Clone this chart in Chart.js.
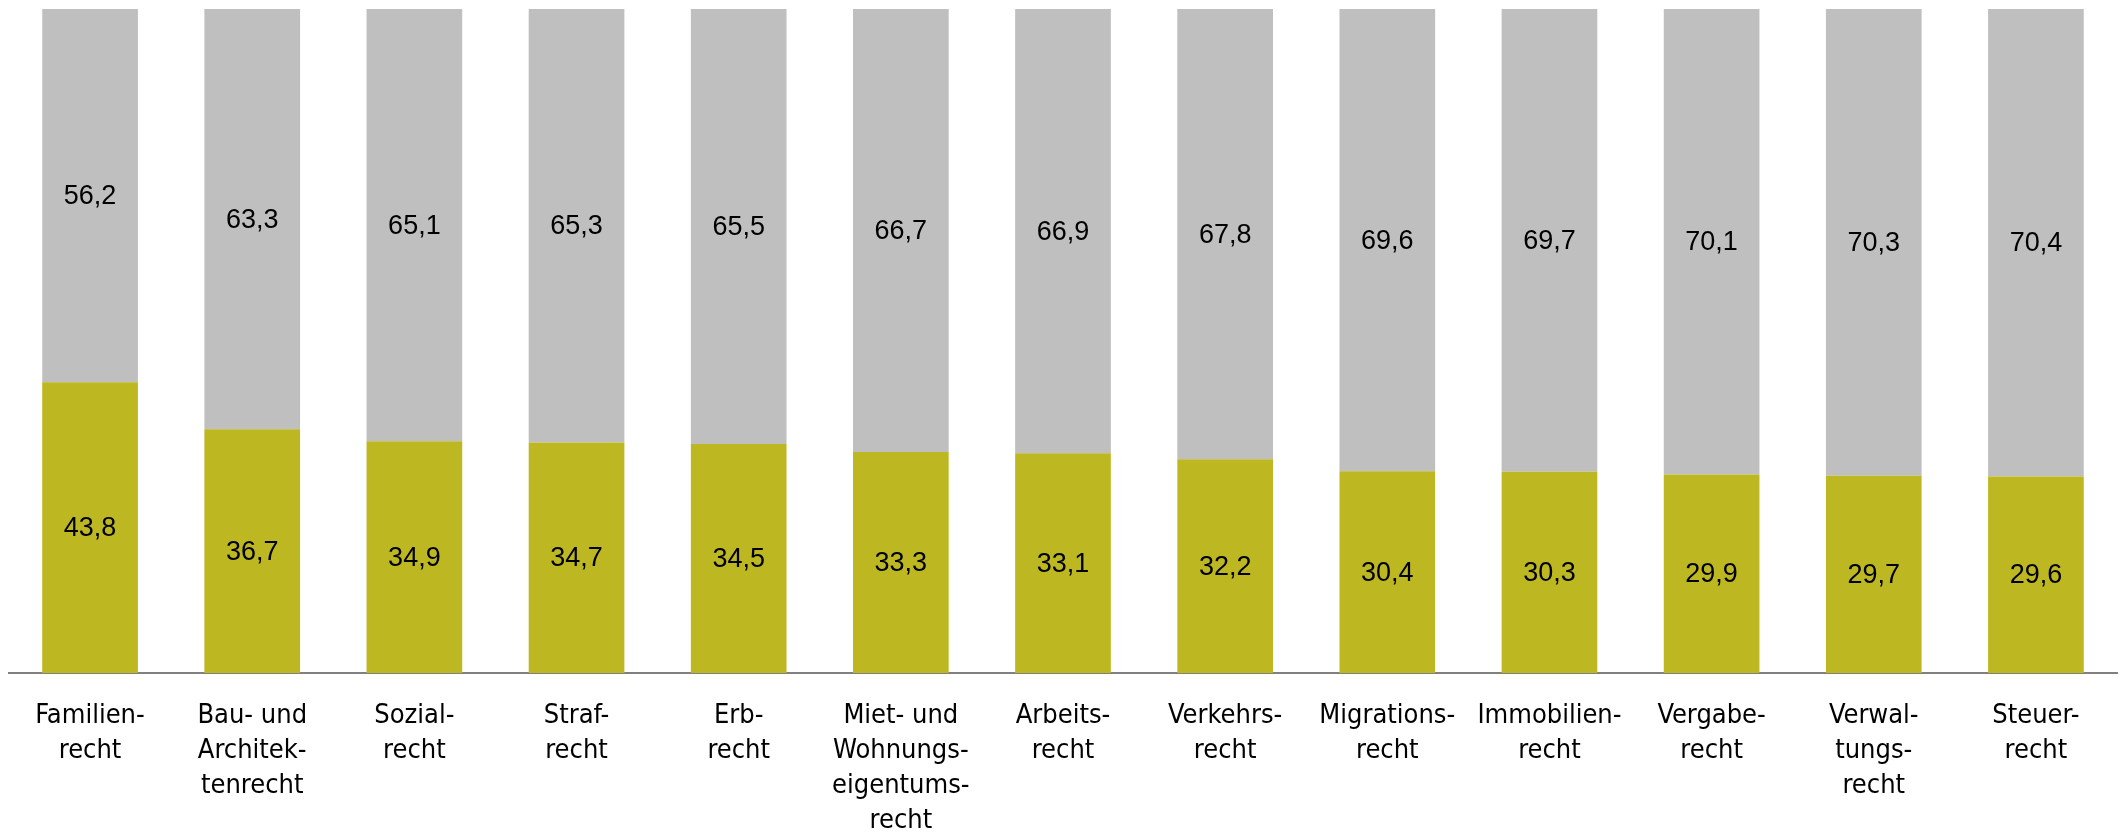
<!DOCTYPE html>
<html>
<head>
<meta charset="utf-8">
<script src="https://cdn.jsdelivr.net/npm/chart.js@4.4.0/dist/chart.umd.min.js"></script>
<style>
  html, body { margin: 0; padding: 0; background: #fff; }
  #wrap { width: 2123px; height: 833px; position: relative; }
</style>
</head>
<body>
<div id="wrap"><canvas id="c"></canvas></div>
<script>
// Kategorien (mehrzeilige Beschriftung)
const kategorien = [
  ['Familien-', 'recht'],
  ['Bau- und', 'Architek-', 'tenrecht'],
  ['Sozial-', 'recht'],
  ['Straf-', 'recht'],
  ['Erb-', 'recht'],
  ['Miet- und', 'Wohnungs-', 'eigentums-', 'recht'],
  ['Arbeits-', 'recht'],
  ['Verkehrs-', 'recht'],
  ['Migrations-', 'recht'],
  ['Immobilien-', 'recht'],
  ['Vergabe-', 'recht'],
  ['Verwal-', 'tungs-', 'recht'],
  ['Steuer-', 'recht']
];

const anteilUnten = [43.8, 36.7, 34.9, 34.7, 34.5, 33.3, 33.1, 32.2, 30.4, 30.3, 29.9, 29.7, 29.6];
const anteilOben  = [56.2, 63.3, 65.1, 65.3, 65.5, 66.7, 66.9, 67.8, 69.6, 69.7, 70.1, 70.3, 70.4];

const fmt = v => v.toFixed(1).replace('.', ',');

// Werte mittig in die Segmente schreiben
const wertLabels = {
  id: 'wertLabels',
  afterDatasetsDraw(chart) {
    const ctx = chart.ctx;
    ctx.save();
    ctx.font = '27px "Liberation Sans", Arial, sans-serif';
    ctx.fillStyle = '#000';
    ctx.textAlign = 'center';
    ctx.textBaseline = 'middle';
    chart.data.datasets.forEach((ds, i) => {
      chart.getDatasetMeta(i).data.forEach((bar, j) => {
        const p = bar.getProps(['x', 'y', 'base'], true);
        ctx.fillText(fmt(ds.data[j]), p.x, (p.y + p.base) / 2 + 1);
      });
    });
    ctx.restore();
  }
};

new Chart(document.getElementById('c'), {
  type: 'bar',
  data: {
    labels: kategorien,
    datasets: [
      { data: anteilUnten, backgroundColor: '#BDB722' },
      { data: anteilOben, backgroundColor: '#BFBFBF' }
    ]
  },
  options: {
    responsive: true,
    maintainAspectRatio: false,
    animation: false,
    events: [],
    layout: { padding: { left: 9, right: 6, top: 9, bottom: 0 } },
    datasets: { bar: { barPercentage: 1, categoryPercentage: 0.59 } },
    plugins: { legend: { display: false }, tooltip: { enabled: false } },
    scales: {
      x: {
        stacked: true,
        grid: { display: false },
        border: { display: true, color: '#808080', width: 2 },
        ticks: {
          color: '#000',
          maxRotation: 0,
          autoSkip: false,
          padding: 17,
          font: { family: '"Liberation Sans Narrow", "DejaVu Sans Condensed", sans-serif', size: 27, lineHeight: 1.3 }
        },
        afterFit(scale) { scale.height = 160; }
      },
      y: {
        stacked: true,
        display: false,
        min: 0,
        max: 100
      }
    }
  },
  plugins: [wertLabels]
});
</script>
</body>
</html>
